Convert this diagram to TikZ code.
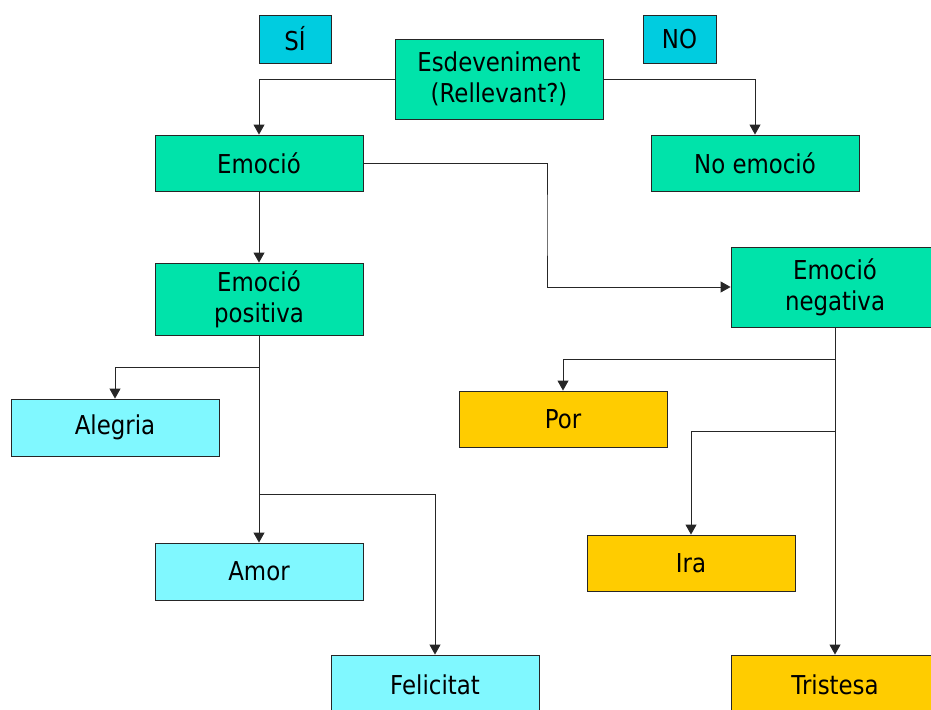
\documentclass[tikz,border=0pt]{standalone}
\usepackage{fontspec}
\setmainfont{DejaVu Sans}[FakeStretch=0.88]
\usetikzlibrary{arrows.meta}
\definecolor{mint}{HTML}{00E3AA}
\definecolor{tagcyan}{HTML}{00CCE0}
\definecolor{lightcyan}{HTML}{80F8FF}
\definecolor{gold}{HTML}{FFCC00}
\tikzset{
  box/.style={draw=black!85, line width=0.9pt, inner sep=0pt, align=center,
    minimum width=208pt, minimum height=56pt,
    font=\fontsize{26}{31}\selectfont},
  tag/.style={box, fill=tagcyan, minimum width=72pt, minimum height=48pt},
  core/.style={box, fill=mint},
  posbox/.style={box, fill=lightcyan},
  negbox/.style={box, fill=gold},
  link/.style={draw=black!85, line width=0.9pt,
    -{Triangle[length=10pt,width=11pt]}}
}
\begin{document}
\begin{tikzpicture}[x=1pt,y=-1pt]
\clip (0,0) rectangle (931,709);
\fill[white] (0,0) rectangle (931,709);

% header tags
\node[tag] (si) at (295,39) {SÍ};
\node[tag, minimum width=73pt] (no) at (679.5,39) {NO};

% main decision chain
\node[core, minimum height=80pt] (ev) at (499,79) {Esdeveniment\\(Rellevant?)};
\node[core] (em) at (259,163) {Emoció};
\node[core] (noem) at (755,163) {No emoció};
\node[core, minimum height=72pt] (pos) at (259,299) {Emoció\\positiva};
\node[core, minimum height=80pt] (neg) at (835,287) {Emoció\\negativa};

% positive emotions
\node[posbox, minimum height=57pt] (ale) at (115,427.5) {Alegria};
\node[posbox, minimum height=57pt] (amor) at (259,571.5) {Amor};
\node[posbox, minimum height=60pt] (fel) at (435,685) {Felicitat};

% negative emotions
\node[negbox] (por) at (563,419) {Por};
\node[negbox] (ira) at (691,563) {Ira};
\node[negbox, minimum height=60pt] (tri) at (835,685) {Tristesa};

% branch points
\coordinate (j1) at (547,225);
\coordinate (bA) at (259,367);
\coordinate (bF) at (259,494);
\coordinate (bP) at (835,359);
\coordinate (bI) at (835,431);

% connectors
\draw[link] (ev.west) -| (em.north);
\draw[link] (ev.east) -| (noem.north);
\draw[link] (em.east) -| (j1) |- (neg.west);
\draw[link] (em.south) -- (pos.north);
\draw[link] (pos.south) -- (amor.north);
\draw[link] (bA) -| (ale.north);
\draw[link] (bF) -| (fel.north);
\draw[link] (neg.south) -- (tri.north);
\draw[link] (bP) -| (por.north);
\draw[link] (bI) -| (ira.north);
\end{tikzpicture}
\end{document}
